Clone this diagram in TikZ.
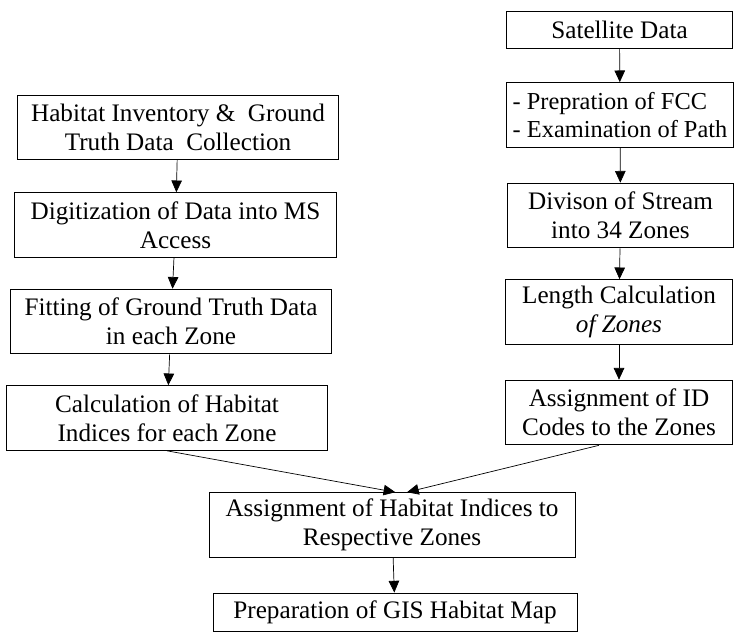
\documentclass[tikz,border=0pt]{standalone}
\usepackage{fontspec}
\setmainfont{Liberation Serif}
\usetikzlibrary{positioning}
\usetikzlibrary{arrows.meta}

\begin{document}
\begin{tikzpicture}[x=0.03cm, y=-0.03cm]
% Style definitions
\tikzset{
    stage/.style={draw, line width=0.8pt, minimum height=1.94cm, align=center,
                  inner sep=1pt, font=\fontsize{21.5}{24.5}\selectfont},
    leftstage/.style={stage, minimum width=9.65cm},
    rightstage/.style={stage, minimum width=6.8cm},
    flow/.style={-{Triangle[length=10pt, width=9pt]}, line width=0.6pt}
}
\useasboundingbox (0,0) rectangle (735,632);

% Left column: field data
\node[leftstage] (inventory) at (178,127.5) {Habitat Inventory \&\ \ Ground\\Truth Data\ \ Collection};
\node[leftstage] (digitize) at (175.5,225) {Digitization of Data into MS\\Access};
\node[leftstage] (fitting) at (171,321.5) {Fitting of Ground Truth Data\\in each Zone};
\node[leftstage] (indices) at (167,418) {Calculation of Habitat\\Indices for each Zone};

% Right column: satellite data
\node[rightstage, minimum height=1.11cm] (satellite) at (619.5,29.5) {Satellite Data};
\node[rightstage, align=left, font=\fontsize{20.8}{24.5}\selectfont] (fcc) at (620,115) {- Prepration of FCC\\- Examination of Path};
\node[rightstage] (divide) at (620.5,215.5) {Divison of Stream\\into 34 Zones};
\node[rightstage] (length) at (619,312) {Length Calculation\\\textit{of Zones}};
\node[rightstage] (codes) at (619,412.5) {Assignment of ID\\Codes to the Zones};

% Bottom: merged result
\node[stage, minimum width=10.98cm] (assign) at (392,525) {Assignment of Habitat Indices to\\Respective Zones};
\node[stage, minimum width=10.92cm, minimum height=1.14cm] (gismap) at (395,612) {Preparation of GIS Habitat Map};

% Connecting arrows
\draw[flow] (inventory) -- (digitize);
\draw[flow] (digitize) -- (fitting);
\draw[flow] (fitting) -- (indices);

\draw[flow] (satellite) -- (fcc);
\draw[flow] (fcc) -- (divide);
\draw[flow] (divide) -- (length);
\draw[flow] (length) -- (codes);

\draw[flow] (indices.south) -- ([xshift=0.1cm]assign.north);
\draw[flow] ([xshift=-0.6cm]codes.south) -- ([xshift=0.45cm]assign.north);
\draw[flow] (assign) -- (gismap);

\end{tikzpicture}
\end{document}
